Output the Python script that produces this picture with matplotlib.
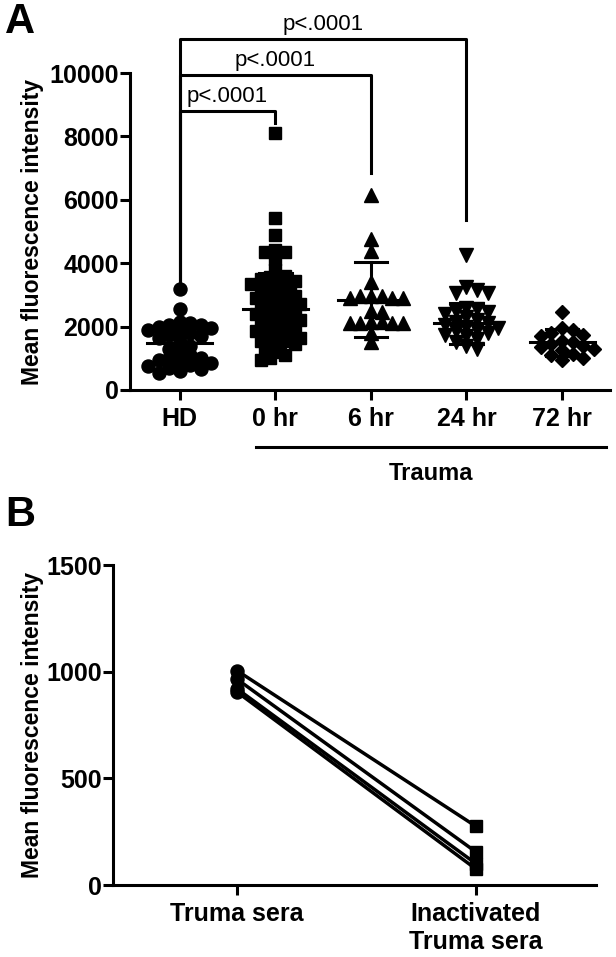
import numpy as np
import matplotlib.pyplot as plt

plt.rcParams['font.family'] = ['Liberation Sans', 'DejaVu Sans']
plt.rcParams['font.weight'] = 'bold'

# ---- panel A data ----
groups = ['HD', '0 hr', '6 hr', '24 hr', '72 hr']
hd = [3200, 2550, 2150, 2100, 2050, 2050, 2000, 1950, 1900, 1850, 1800, 1750, 1700,
      1650, 1500, 1400, 1300, 1200, 1100, 1000, 1000, 950, 900, 850, 800, 750, 700,
      650, 600, 550]
hr0 = [8100, 5430, 4890, 4420, 4350, 4350, 4130, 3790, 3600, 3550, 3500, 3450, 3400,
       3350, 3300, 3250, 3200, 3100, 3050, 3000, 2950, 2900, 2850, 2800, 2750, 2700,
       2650, 2600, 2550, 2500, 2450, 2400, 2350, 2300, 2250, 2200, 2150, 2100, 2050,
       2000, 1950, 1900, 1850, 1800, 1750, 1700, 1650, 1600, 1550, 1500, 1450, 1400,
       1300, 1200, 1100, 1000, 950]
hr6 = [6150, 4750, 4400, 3400, 2950, 2950, 2900, 2900, 2950, 2900, 2500, 2450, 2150,
       2100, 2100, 2150, 2100, 2100, 1800, 1500]
hr24 = [4250, 3250, 3150, 3050, 3050, 2600, 2550, 2500, 2450, 2400, 2300, 2200, 2150,
        2100, 2050, 2000, 1950, 1900, 1850, 1800, 1750, 1700, 1600, 1500, 1400, 1300]
hr72 = [2450, 1950, 1900, 1800, 1750, 1700, 1550, 1500, 1450, 1400, 1350, 1300, 1250,
        1150, 1100, 1000, 950]
group_means = [1480, 2550, 2850, 2100, 1500]
group_sds = [560, 1150, 1185, 640, 420]
markers = ['o', 's', '^', 'v', 'D']
msizes = [9.4, 8.8, 9.6, 9.6, 6.8]

bracket_ends = [1, 2, 3]
bracket_heights = [8800, 9940, 11070]
bracket_drops = [8420, 6850, 5360]
hd_drop = 3200
p_labels = ['p<.0001', 'p<.0001', 'p<.0001']

# ---- panel B data ----
sera_groups = ['Truma sera', 'Inactivated\nTruma sera']
truma = [1005, 965, 920, 905]
inactivated = [275, 155, 100, 75]


def swarm_x(ax, xc, vals, size_px, step=0.4, overlap=0.65):
    # simple beeswarm: put each point at the nearest free slot next to the centre
    pts = []
    xs = []
    inv = ax.transData.inverted()
    for v in vals:
        px0, py = ax.transData.transform((xc, v))
        cands = [0]
        for i in range(1, 40):
            cands += [i, -i]
        for c in cands:
            px = px0 + c * step * size_px
            if all((px - qx) ** 2 + (py - qy) ** 2 >= (overlap * size_px) ** 2 for qx, qy in pts):
                break
        pts.append((px, py))
        xs.append(inv.transform((px, py))[0])
    return xs


fig = plt.figure(figsize=(6.16, 9.57), dpi=100)
lw = 2.2

# ================= panel A =================
axA = fig.add_axes([0.211, 0.5925, 0.779, 0.3312])
axA.set_xlim(-0.52, 4.5)
axA.set_ylim(0, 10000)
for s in ['top', 'right']:
    axA.spines[s].set_visible(False)
for s in ['left', 'bottom']:
    axA.spines[s].set_linewidth(lw)
axA.set_yticks([0, 2000, 4000, 6000, 8000, 10000])
axA.set_xticks(range(len(groups)))
axA.set_xticklabels(groups)
axA.tick_params(axis='both', width=lw, length=7, labelsize=18)
axA.tick_params(axis='y', pad=1)
axA.tick_params(axis='x', pad=5)
axA.set_ylabel('Mean fluorescence intensity', fontsize=16.5, fontweight='bold')
axA.yaxis.set_label_coords(-0.179, 0.5)

data = [hd, hr0, hr6, hr24, hr72]
for i, vals in enumerate(data):
    vals_sorted = sorted(vals, reverse=True)
    xs = swarm_x(axA, i, vals_sorted, msizes[i] / 0.72 * (1.0 if markers[i] != 'D' else 1.41))
    axA.plot(xs, vals_sorted, linestyle='none', marker=markers[i], ms=msizes[i],
             color='black', clip_on=False, zorder=3)
    m, sd = group_means[i], group_sds[i]
    axA.plot([i - 0.34, i + 0.34], [m, m], color='black', lw=lw, zorder=4)
    axA.plot([i, i], [m - sd, m + sd], color='black', lw=lw, zorder=4)
    for y in [m - sd, m + sd]:
        axA.plot([i - 0.17, i + 0.17], [y, y], color='black', lw=lw, zorder=4)

# significance brackets
for end, h, drop, lab in zip(bracket_ends, bracket_heights, bracket_drops, p_labels):
    axA.plot([0, 0, end, end], [hd_drop, h, h, drop], color='black', lw=lw,
             clip_on=False, zorder=2)
    axA.text(end / 2, h + 120, lab, ha='center', va='bottom', fontsize=16,
             fontweight='normal')

# Trauma grouping line
axA.plot([0.8, 4.46], [-1800, -1800], color='black', lw=lw, clip_on=False)
axA.text(2.63, -2650, 'Trauma', ha='center', va='center', fontsize=17)

fig.text(0.008, 1 - 22 / 957, 'A', fontsize=30, ha='left', va='center')

# ================= panel B =================
axB = fig.add_axes([0.1834, 0.0752, 0.784, 0.3344])
axB.set_xlim(-0.519, 1.502)
axB.set_ylim(0, 1500)
for s in ['top', 'right']:
    axB.spines[s].set_visible(False)
for s in ['left', 'bottom']:
    axB.spines[s].set_linewidth(lw)
axB.set_yticks([0, 500, 1000, 1500])
axB.set_xticks([0, 1])
axB.set_xticklabels(sera_groups, linespacing=1.25)
axB.tick_params(axis='both', width=lw, length=7, labelsize=18)
axB.tick_params(axis='y', pad=1)
axB.tick_params(axis='x', pad=5)
axB.set_ylabel('Mean fluorescence intensity', fontsize=16.5, fontweight='bold')
axB.yaxis.set_label_coords(-0.143, 0.5)

for t, ina in zip(truma, inactivated):
    axB.plot([0, 1], [t, ina], color='black', lw=2.5, zorder=2)
axB.plot([0] * len(truma), truma, linestyle='none', marker='o', ms=9.4, color='black',
         zorder=3, clip_on=False)
axB.plot([1] * len(inactivated), inactivated, linestyle='none', marker='s', ms=8.8,
         color='black', zorder=3, clip_on=False)

fig.text(0.008, 1 - 515 / 957, 'B', fontsize=30, ha='left', va='center')

fig.savefig('out.png', dpi=100)
